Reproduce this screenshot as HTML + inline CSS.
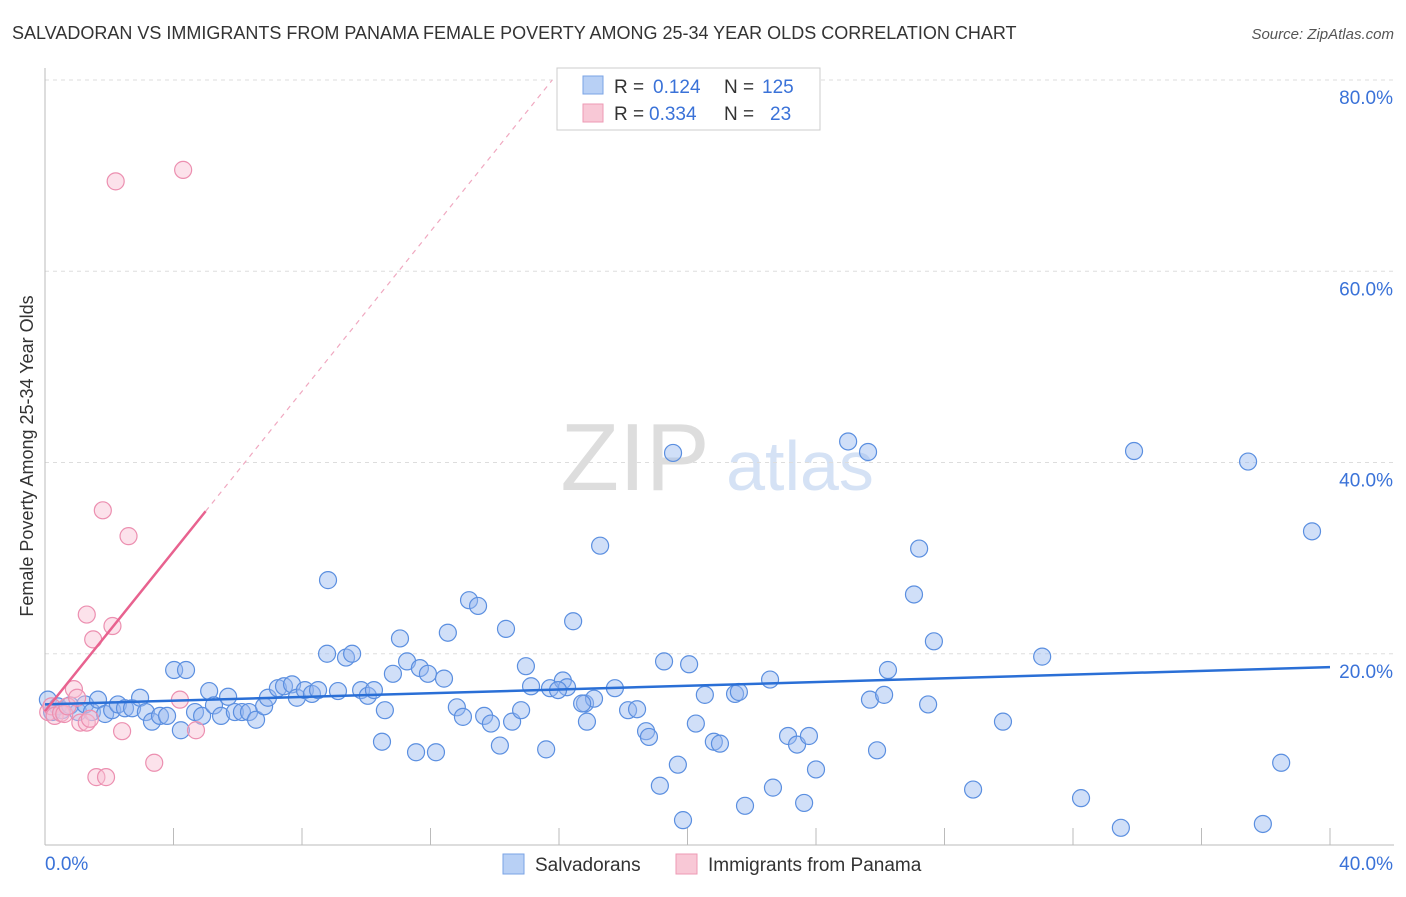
<!DOCTYPE html>
<html><head><meta charset="utf-8">
<style>
body{margin:0;background:#fff;font-family:"Liberation Sans",sans-serif;}
svg text{font-family:"Liberation Sans",sans-serif;}
</style></head>
<body>
<svg id="chart" width="1406" height="892">
<text x="12" y="39" font-size="18" fill="#333">SALVADORAN VS IMMIGRANTS FROM PANAMA FEMALE POVERTY AMONG 25-34 YEAR OLDS CORRELATION CHART</text>
<text x="1394" y="39" font-size="15" fill="#555" font-style="italic" text-anchor="end">Source: ZipAtlas.com</text>
<text x="33" y="456" font-size="18" fill="#333" text-anchor="middle" transform="rotate(-90 33 456)">Female Poverty Among 25-34 Year Olds</text>
<text x="635" y="490" font-size="96" fill="#ddd" font-family="Liberation Serif" text-anchor="middle">ZIP</text>
<text x="800" y="490" font-size="70" fill="#d5e2f5" text-anchor="middle">atlas</text>
<g id="grid"></g><g id="axes"></g><g id="marks"></g>
<g>
<rect x="557" y="68" width="263" height="62" fill="#fff" stroke="#ccc"/>
<rect x="583" y="76" width="20" height="18" fill="#b8d0f5" stroke="#7aa3e5"/>
<text x="614" y="93" font-size="19" fill="#333">R = </text><text x="653" y="93" font-size="19" fill="#3a72d8">0.124</text>
<text x="724" y="93" font-size="19" fill="#333">N = </text><text x="762" y="93" font-size="19" fill="#3a72d8">125</text>
<rect x="583" y="104" width="20" height="18" fill="#f8c8d6" stroke="#ee9ab4"/>
<text x="614" y="120" font-size="19" fill="#333">R = </text><text x="649" y="120" font-size="19" fill="#3a72d8">0.334</text>
<text x="724" y="120" font-size="19" fill="#333">N = </text><text x="770" y="120" font-size="19" fill="#3a72d8">23</text>
</g>
<g>
<rect x="503" y="854" width="21" height="20" fill="#b8d0f5" stroke="#7aa3e5"/>
<text x="535" y="871" font-size="19" fill="#333">Salvadorans</text>
<rect x="676" y="854" width="21" height="20" fill="#f8c8d6" stroke="#ee9ab4"/>
<text x="708" y="871" font-size="19" fill="#333">Immigrants from Panama</text>
</g>
</svg>
<script>
const xTicks=[0,4,8,12,16,20,24,28,32,36,40];
const yTicks=[20,40,60,80];
const yTickLabels=["20.0%","40.0%","60.0%","80.0%"];
const blueX=[0.09,0.22,0.40,0.53,0.78,1.03,1.25,1.46,1.65,1.87,2.09,2.27,2.49,2.71,2.96,3.14,3.33,3.58,3.80,4.02,4.23,4.39,4.67,4.89,5.11,5.26,5.48,5.70,5.91,6.13,6.35,6.57,6.82,6.94,7.25,7.44,7.69,7.84,8.09,8.31,8.50,8.81,8.78,9.12,9.37,9.56,9.84,10.05,10.24,10.58,10.49,10.83,11.05,11.27,11.55,11.67,11.92,12.17,12.42,12.54,12.82,13.01,13.20,13.48,13.67,13.88,14.16,14.35,14.54,14.82,14.97,15.13,15.60,15.72,16.12,16.25,16.44,16.81,16.87,17.09,17.28,17.74,18.15,18.43,18.71,18.80,19.14,19.27,19.55,19.70,19.86,20.05,20.26,20.54,20.82,21.01,21.48,21.60,21.79,22.57,22.66,23.13,23.41,23.63,23.78,24.00,25.00,25.62,25.68,25.90,26.12,26.24,27.21,27.05,27.49,27.67,28.89,29.82,31.04,32.25,33.49,33.90,37.45,37.91,38.48,39.44,15.97,16.72];
const blueY=[15.2,13.9,14.5,14.1,14.6,13.9,14.7,13.9,15.2,13.7,14.1,14.7,14.3,14.3,15.4,13.9,12.9,13.5,13.5,18.3,12.0,18.3,13.9,13.5,16.1,14.6,13.5,15.5,13.9,13.9,13.9,13.1,14.5,15.4,16.4,16.6,16.8,15.4,16.2,15.8,16.2,27.7,20.0,16.1,19.6,20.0,16.2,15.6,16.2,14.1,10.8,17.9,21.6,19.2,9.7,18.5,17.9,9.7,17.4,22.2,14.4,13.4,25.6,25.0,13.5,12.7,10.4,22.6,12.9,14.1,18.7,16.6,10.0,16.4,17.2,16.5,23.4,14.8,12.9,15.3,31.3,16.4,14.1,14.2,11.9,11.3,6.2,19.2,41.0,8.4,2.6,18.9,12.7,15.7,10.8,10.6,15.8,16.0,4.1,17.3,6.0,11.4,10.5,4.4,11.4,7.9,42.2,41.1,15.2,9.9,15.7,18.3,31.0,26.2,14.7,21.3,5.8,12.9,19.7,4.9,1.8,41.2,40.1,2.2,8.6,32.8,16.2,14.8];
const pinkX=[0.1,0.2,0.3,0.5,0.6,0.7,0.9,1.0,1.1,1.3,1.4,1.3,1.5,1.6,1.8,1.9,2.1,2.2,2.4,2.6,3.4,4.2,4.3,4.7];
const pinkY=[13.9,14.5,13.5,13.8,13.7,14.5,16.3,15.4,12.8,12.8,13.2,24.1,21.5,7.1,35.0,7.1,22.9,69.4,11.9,32.3,8.6,15.2,70.6,12.0];
const blueTrend=[14.7,18.6];
const pinkTrend=[14.0,34.9];
const NS="http://www.w3.org/2000/svg";
const X=v=>45+v*32.125, Y=v=>845-v*9.5625;
function mk(tag,attrs,parent){const e=document.createElementNS(NS,tag);for(const k in attrs)e.setAttribute(k,attrs[k]);parent.appendChild(e);return e;}
const grid=document.getElementById('grid'),axes=document.getElementById('axes'),marks=document.getElementById('marks');
yTicks.forEach((t,i)=>{
 const l=mk('line',{x1:45,x2:1394,y1:Y(t),y2:Y(t),stroke:'#ddd','stroke-dasharray':'4,4'},grid);
 
 
 const tx=mk('text',{x:1393,y:Y(t)+24,'font-size':19,fill:'#3a72d8','text-anchor':'end'},axes);tx.textContent=yTickLabels[i];
 
 
});
const xa=mk('line',{x1:45,x2:1394,y1:845,y2:845,stroke:'#bbb'},axes);


const ya=mk('line',{x1:45,x2:45,y1:68,y2:845,stroke:'#bbb'},axes);


xTicks.forEach(t=>{const l=mk('line',{x1:X(t),x2:X(t),y1:828,y2:845,stroke:'#bbb'},axes);
 
 });
const xl0=mk('text',{x:45,y:870,'font-size':19,fill:'#3a72d8'},axes);xl0.textContent='0.0%';


const xl1=mk('text',{x:1393,y:870,'font-size':19,fill:'#3a72d8','text-anchor':'end'},axes);xl1.textContent='40.0%';


blueX.forEach((x,i)=>{const c=mk('circle',{cx:X(x),cy:Y(blueY[i]),r:8.5,fill:'rgba(150,185,240,0.45)',stroke:'#5b8fe0','stroke-width':1.2},marks);
 
 });
pinkX.forEach((x,i)=>{const c=mk('circle',{cx:X(x),cy:Y(pinkY[i]),r:8.5,fill:'rgba(248,190,210,0.45)',stroke:'#ec8fb0','stroke-width':1.2},marks);
 
 });
const bt=mk('line',{x1:X(0),y1:Y(blueTrend[0]),x2:X(40),y2:Y(blueTrend[1]),stroke:'#2a6fd6','stroke-width':2.5},marks);


const slope=(pinkTrend[1]-pinkTrend[0])/5.0;
const pt=mk('line',{x1:X(0),y1:Y(pinkTrend[0]),x2:X(5.0),y2:Y(pinkTrend[1]),stroke:'#e8628f','stroke-width':2.5},marks);


const xe=(80-pinkTrend[0])/slope;
const pd=mk('line',{x1:X(5.0),y1:Y(pinkTrend[1]),x2:X(xe),y2:Y(80),stroke:'#f0a8c0','stroke-width':1.2,'stroke-dasharray':'5,5'},marks);


</script>
</body></html>
